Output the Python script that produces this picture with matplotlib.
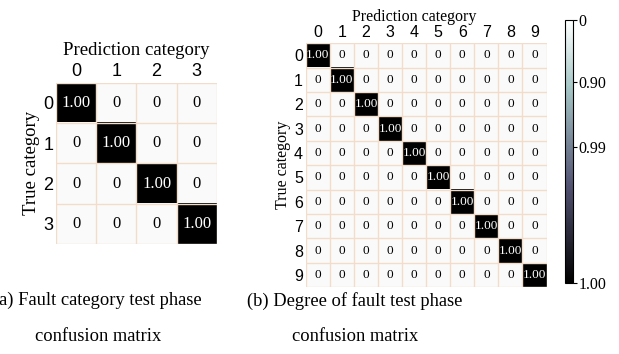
import numpy as np
import matplotlib
matplotlib.use('Agg')
import matplotlib.pyplot as plt
from matplotlib.cm import ScalarMappable
from matplotlib.colors import Normalize

# confusion matrices (normalised)
fault_classes = ['0', '1', '2', '3']
fault_cm = np.array([
    [1.00, 0, 0, 0],
    [0, 1.00, 0, 0],
    [0, 0, 1.00, 0],
    [0, 0, 0, 1.00],
])

degree_classes = ['0', '1', '2', '3', '4', '5', '6', '7', '8', '9']
degree_cm = np.eye(10)

cbar_ticks = [0.0, 0.236, 0.483, 1.0]
cbar_labels = ['0', '0.90', '0.99', '1.00']

caption_a = '(a) Fault category test phase\nconfusion matrix'
caption_b = '(b) Degree of fault test phase\nconfusion matrix'

serif = 'Liberation Serif'
sans = 'Liberation Sans'
grid_col = '#f3dcc9'

fig = plt.figure(figsize=(6.19, 3.54), dpi=100)


def draw_cm(ax, cm, labels, val_size, tick_size, title_size, title_pad):
    n = len(labels)
    # light grey for zero cells, black for 1.00
    ax.imshow(cm, cmap='Greys', vmin=-0.04, vmax=1, aspect='auto')
    for i in range(n):
        for j in range(n):
            v = cm[i, j]
            txt = '%.2f' % v if v > 0 else '0'
            ax.text(j, i, txt, ha='center', va='center', fontfamily=serif,
                    fontsize=val_size, color='white' if v > 0.5 else 'black')
    ax.set_xticks(range(n))
    ax.set_yticks(range(n))
    ax.set_xticklabels(labels, fontfamily=sans, fontsize=tick_size)
    ax.set_yticklabels(labels, fontfamily=sans, fontsize=tick_size)
    ax.xaxis.tick_top()
    ax.tick_params(length=0, pad=2)
    ax.set_xticks(np.arange(-0.5, n, 1), minor=True)
    ax.set_yticks(np.arange(-0.5, n, 1), minor=True)
    ax.grid(which='minor', color=grid_col, linewidth=1)
    ax.tick_params(which='minor', length=0)
    for s in ax.spines.values():
        s.set_visible(False)
    ax.set_title('Prediction category', fontfamily=serif, fontsize=title_size, pad=title_pad)
    ax.set_ylabel('True category', fontfamily=serif, fontsize=title_size, labelpad=2)


ax1 = fig.add_axes([0.0905, 0.311, 0.260, 0.455])
draw_cm(ax1, fault_cm, fault_classes, 12, 13, 13.5, 20)

ax2 = fig.add_axes([0.494, 0.189, 0.389, 0.689])
draw_cm(ax2, degree_cm, degree_classes, 9.5, 11.5, 11.5, 0)
ax2.title.set_position((0.45, 1.0))

cax = fig.add_axes([0.913, 0.201, 0.013, 0.743])
sm = ScalarMappable(norm=Normalize(0, 1), cmap='bone_r')
cb = fig.colorbar(sm, cax=cax)
cb.set_ticks(cbar_ticks)
cb.set_ticklabels(cbar_labels)
cax.invert_yaxis()
cb.outline.set_linewidth(0.8)
cax.tick_params(length=3, width=0.8, pad=1)
for t in cax.get_yticklabels():
    t.set_fontfamily(serif)
    t.set_fontsize(11.5)

fig.text(0.158, 0.100, caption_a, ha='center', va='center', fontfamily=serif,
         fontsize=13.3, linespacing=2.45)
fig.text(0.573, 0.100, caption_b, ha='center', va='center', fontfamily=serif,
         fontsize=13.3, linespacing=2.45)

fig.savefig('out.png', dpi=100)
